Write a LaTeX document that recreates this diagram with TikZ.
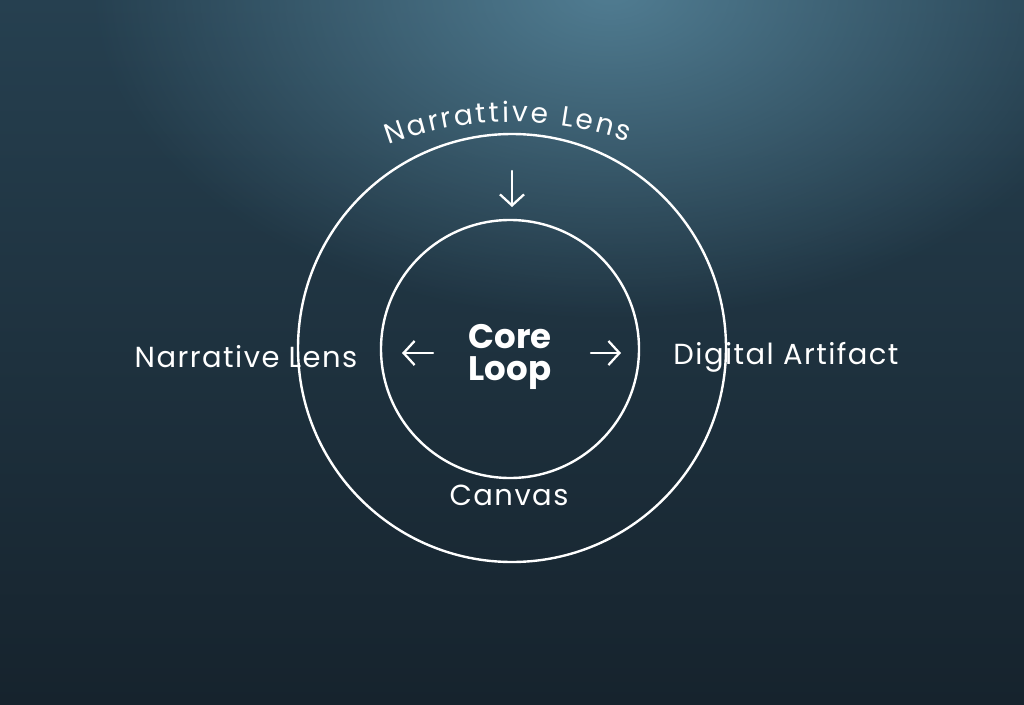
\documentclass[tikz,border=0pt]{standalone}
\usepackage{fontspec}
\setmainfont{Poppins}
\newfontfamily\lblfont[LetterSpace=5]{Poppins}
\usetikzlibrary{arrows.meta,decorations.text,fadings}
\tikzfading[name=softglow, inner color=transparent!0, outer color=transparent!100]
\definecolor{bgtop}{RGB}{38,64,80}
\definecolor{bgbot}{RGB}{22,35,45}
\definecolor{glow}{RGB}{95,145,168}
\tikzset{
  ring/.style={draw=white, line width=2.4pt},
  lbl/.style={text=white, font=\lblfont\fontsize{29}{32}\selectfont, inner sep=0pt},
  corelbl/.style={text=white, font=\fontsize{34}{32}\selectfont\bfseries, align=center, inner sep=0pt},
  arr/.style={draw=white, line width=2.3pt, line cap=round, -{Straight Barb[length=11pt,width=24pt,line width=2.3pt]}}
}
\begin{document}
\begin{tikzpicture}[x=1pt,y=-1pt]
  \useasboundingbox (0,0) rectangle (1024,704);
  \shade[top color=bgtop, bottom color=bgbot] (0,0) rectangle (1024,704);
  \fill[glow, fill opacity=0.75, path fading=softglow] (610,-10) ellipse (520 and 330);
  % rings
  \node[ring, circle, minimum size=428pt, inner sep=0pt] (outer) at (512,348) {};
  \node[ring, circle, minimum size=258pt, inner sep=0pt] (inner) at (510,349) {};
  % curved top label
  \path[decorate, decoration={text along path, text align={fit to path},
      text={|\color{white}\fontsize{28}{30}\selectfont|Narrattive Lens}}]
      (512,474) ++(-110.6:352) arc[start angle=-110.6, end angle=-70.8, radius=352];
  % labels
  \node[lbl] (left) at (246,357) {Narrative Lens};
  \node[lbl] (right) at (786,357) {Digital Artifact};
  \node[lbl] (canvas) at (509,495) {Canvas};
  \node[corelbl] (core) at (510,357) {Core\\Loop};
  % arrows
  \coordinate (dtop) at (512,171);
  \coordinate (dbot) at (512,207);
  \coordinate (lfrom) at (433,353);
  \coordinate (lto) at (402,353);
  \coordinate (rfrom) at (591,353);
  \coordinate (rto) at (621,353);
  \draw[arr] (dtop) -- (dbot);
  \draw[arr] (lfrom) -- (lto);
  \draw[arr] (rfrom) -- (rto);
\end{tikzpicture}
\end{document}
